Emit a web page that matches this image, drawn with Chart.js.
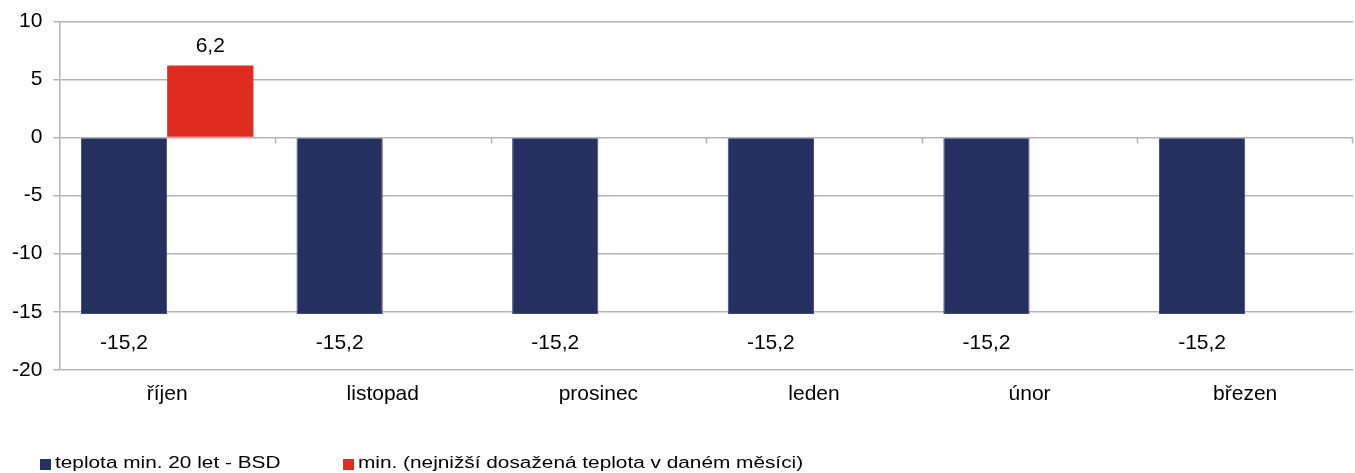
<!DOCTYPE html>
<html>
<head>
<meta charset="utf-8">
<script src="https://cdn.jsdelivr.net/npm/chart.js@4"></script>
<style>
  html, body { margin: 0; padding: 0; background: #fff; }
  #wrap { width: 1355px; height: 473px; position: relative; }
  #legend { position: absolute; left: 40px; top: 453px; height: 20px; font-family: 'Liberation Sans', Arial, sans-serif; font-size: 16px; color: #000; }
  .item { position: absolute; top: 0; white-space: nowrap; }
  .box { position: absolute; top: 6px; width: 11px; height: 11px; }
  .txt { position: absolute; left: 15px; top: 0; line-height: 20px; transform: scaleX(1.3); transform-origin: left center; }
</style>
</head>
<body>
<div id="wrap"><canvas id="chart"></canvas><div id="legend"></div></div>
<script>
const months = ["říjen", "listopad", "prosinec", "leden", "únor", "březen"];
const bsdMin = [-15.2, -15.2, -15.2, -15.2, -15.2, -15.2];
const lowestMin = [6.2, null, null, null, null, null];
const seriesNames = ["teplota min. 20 let - BSD", "min. (nejnižší dosažená teplota v daném měsíci)"];
const seriesColors = ["#253060", "#e02b20"];

const gridColor = "#b4b4b4";
const fontFamily = "'Liberation Sans', Arial, sans-serif";

// value labels above / below each bar
const barLabels = {
  id: "barLabels",
  afterDatasetsDraw(chart) {
    const ctx = chart.ctx;
    ctx.save();
    ctx.font = "21px " + fontFamily;
    ctx.fillStyle = "#000";
    ctx.textAlign = "center";
    ctx.textBaseline = "alphabetic";
    chart.data.datasets.forEach((ds, i) => {
      const meta = chart.getDatasetMeta(i);
      meta.data.forEach((bar, j) => {
        const v = ds.data[j];
        if (v === null || v === undefined) return;
        const txt = String(v).replace(".", ",");
        const y = v < 0 ? bar.y + 35 : bar.y - 14;
        ctx.fillText(txt, bar.x, y);
      });
    });
    ctx.restore();
  }
};

// small category ticks hanging from the zero line
const zeroTicks = {
  id: "zeroTicks",
  beforeDatasetsDraw(chart) {
    const x = chart.scales.x, y = chart.scales.y;
    const y0 = y.getPixelForValue(0);
    const ctx = chart.ctx;
    ctx.save();
    ctx.strokeStyle = gridColor;
    ctx.lineWidth = 1.5;
    ctx.beginPath();
    for (let i = 1; i <= months.length; i++) {
      let px;
      if (i < months.length) {
        px = (x.getPixelForValue(i - 1) + x.getPixelForValue(i)) / 2;
      } else {
        px = chart.chartArea.right - 1;
      }
      ctx.moveTo(Math.round(px) + 0.5, y0);
      ctx.lineTo(Math.round(px) + 0.5, y0 + 6);
    }
    ctx.stroke();
    ctx.restore();
  }
};

const ctx = document.getElementById("chart").getContext("2d");
const myChart = new Chart(ctx, {
  type: "bar",
  data: {
    labels: months,
    datasets: [
      {
        label: seriesNames[0],
        data: bsdMin,
        backgroundColor: seriesColors[0],
        borderColor: "#3b4a7e",
        borderWidth: 1,
        categoryPercentage: 0.8,
        barPercentage: 1.0,
      },
      {
        label: seriesNames[1],
        data: lowestMin,
        backgroundColor: seriesColors[1],
        borderWidth: 0,
        categoryPercentage: 0.8,
        barPercentage: 1.0,
      },
    ],
  },
  options: {
    responsive: true,
    maintainAspectRatio: false,
    animation: false,
    layout: { padding: { left: 1, right: 2, top: 9, bottom: 54 } },
    plugins: {
      legend: { display: false },
      tooltip: { enabled: false },
    },
    scales: {
      x: {
        grid: { display: false, drawTicks: false },
        border: { display: false },
        ticks: {
          color: "#000",
          padding: 12,
          font: { family: fontFamily, size: 21 },
        },
      },
      y: {
        min: -20,
        max: 10,
        grid: {
          color: gridColor,
          lineWidth: 1.5,
          tickLength: 6,
          drawTicks: true,
        },
        border: { display: true, color: gridColor, width: 1.5 },
        ticks: {
          stepSize: 5,
          color: "#000",
          padding: 11,
          font: { family: fontFamily, size: 21, lineHeight: 1 },
        },
      },
    },
  },
  plugins: [barLabels, zeroTicks],
});

// legend below the chart
const legendEl = document.getElementById("legend");
const legendX = [0, 303];
seriesNames.forEach((name, i) => {
  const item = document.createElement("div");
  item.className = "item";
  item.style.left = legendX[i] + "px";
  item.innerHTML = '<span class="box" style="background:' + seriesColors[i] + '"></span><span class="txt"></span>';
  item.querySelector(".txt").textContent = name;
  legendEl.appendChild(item);
});
</script>
</body>
</html>
